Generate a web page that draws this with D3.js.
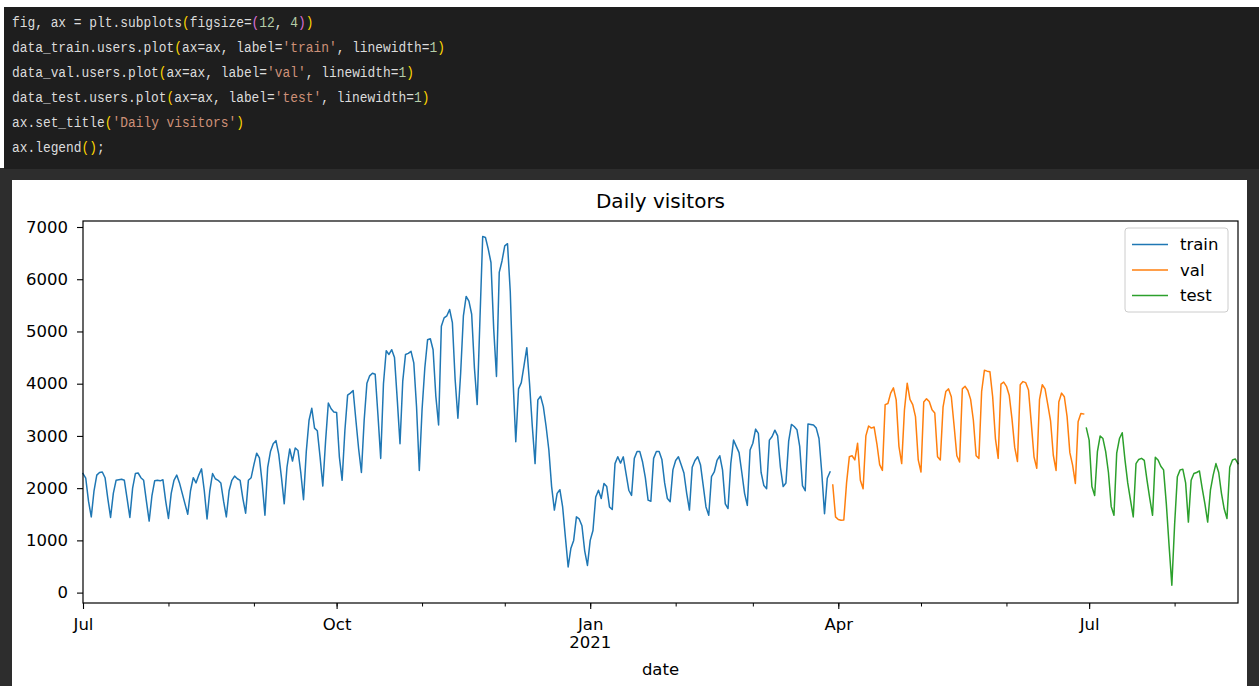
<!DOCTYPE html>
<html>
<head>
<meta charset="utf-8">
<script src="https://cdn.jsdelivr.net/npm/d3@7"></script>
<style>
  html, body { margin: 0; padding: 0; background: #ffffff; }
  svg { display: block; }
</style>
</head>
<body>
<svg id="chart" width="1259" height="686"></svg>
<script>
// ---------------- data ----------------
const trainStart = "2020-07-01";
const valStart = "2021-03-30";
const testStart = "2021-06-30";

const trainUsers = [2280,2190,1750,1450,
1950,2250,2300,2310,2200,1800,1440,
1900,2150,2160,2170,2150,1800,1440,
2000,2280,2290,2200,2150,1750,1370,
1850,2140,2150,2140,2160,1750,1420,
1900,2150,2250,2100,1900,1700,1500,
1950,2200,2100,2250,2370,1950,1410,
1950,2280,2180,2150,2100,1750,1450,
1950,2150,2230,2180,2150,1800,1520,
2150,2200,2450,2670,2580,2100,1480,
2400,2700,2850,2910,2650,2200,1700,
2400,2750,2520,2770,2720,2300,1780,
2700,3300,3530,3150,3100,2600,2040,
2900,3630,3520,3460,3450,2600,2150,
3100,3780,3820,3870,3300,2750,2300,
3300,4010,4150,4200,4180,3400,2570,
4000,4630,4560,4650,4500,3700,2850,
4050,4560,4580,4620,4400,3560,2340,
3500,4300,4840,4860,4650,3760,3210,
5100,5260,5300,5420,5170,4080,3340,
4200,5300,5670,5580,5330,4300,3600,
5230,6820,6800,6580,6320,5040,4140,
6130,6350,6640,6680,5760,4080,2890,
3900,4020,4350,4690,4000,3180,2470,
3690,3760,3560,3180,2730,2030,1580,
1900,1970,1640,1060,490,850,1000,
1450,1410,1280,800,520,1000,1190,
1830,1960,1800,2090,2030,1640,1590,
2470,2600,2480,2600,2280,1960,1860,
2570,2700,2700,2500,2200,1770,1750,
2570,2700,2700,2550,2100,1800,1740,
2350,2530,2600,2450,2290,1900,1580,
2400,2530,2600,2450,2050,1640,1480,
2220,2310,2530,2620,2350,1700,1610,
2470,2920,2800,2680,2300,1900,1670,
2730,2860,3130,3050,2300,2050,1990,
2920,2990,3110,3000,2400,2030,2100,
2900,3220,3180,3120,2800,2050,1950,
3230,3220,3210,3150,2950,2300,1510,
2190,2310];

const valUsers = [2060,1450,1400,1385,1390,2100,2600,2620,2540,2860,2150,1990,
3000,3190,3150,3170,2850,2450,2340,
3600,3620,3820,3920,3690,2800,2470,
3500,4010,3700,3600,3370,2540,2310,
3650,3710,3660,3500,3440,2600,2540,
3550,3850,3900,3750,3200,2620,2500,
3900,3950,3870,3700,3300,2620,2570,
3850,4256,4240,4230,3750,2950,2570,
3990,4030,3950,3780,3330,2780,2510,
3980,4040,4020,3880,3250,2600,2380,
3700,3980,3900,3600,3290,2630,2340,
3650,3820,3750,3370,2680,2440,2090,
3270,3430,3420];

const testUsers = [3150,2920,2030,1860,2700,3000,2950,2700,2300,1650,1480,
2670,2950,3060,2540,2100,1770,1450,
2470,2550,2570,2530,2150,1800,1480,
2590,2540,2420,2350,1700,900,140,
1300,2220,2350,2360,2100,1350,
2150,2280,2300,2330,2000,1700,1350,
1960,2250,2470,2300,1900,1600,1420,
2400,2540,2560,2470];

const seriesNames = ["train", "val", "test"];
const seriesColors = ["#1f77b4", "#ff7f0e", "#2ca02c"];

const yTicks = [0, 1000, 2000, 3000, 4000, 5000, 6000, 7000];
const xMajorDates = ["2020-07-01", "2020-10-01", "2021-01-01", "2021-04-01", "2021-07-01"];
const xMajorLabels = ["Jul", "Oct", "Jan", "Apr", "Jul"];
const xYearDate = "2021-01-01";
const xYearLabel = "2021";

const titleText = "Daily visitors";
const xLabelText = "date";

// code cell content: [text, colorKey]
const codeLines = [
  [["fig, ax = plt.subplots", "t"], ["(", "p1"], ["figsize=", "t"], ["(", "p2"], ["12", "n"], [", ", "t"], ["4", "n"], [")", "p2"], [")", "p1"]],
  [["data_train.users.plot", "t"], ["(", "p1"], ["ax=ax, label=", "t"], ["'train'", "s"], [", linewidth=", "t"], ["1", "n"], [")", "p1"]],
  [["data_val.users.plot", "t"], ["(", "p1"], ["ax=ax, label=", "t"], ["'val'", "s"], [", linewidth=", "t"], ["1", "n"], [")", "p1"]],
  [["data_test.users.plot", "t"], ["(", "p1"], ["ax=ax, label=", "t"], ["'test'", "s"], [", linewidth=", "t"], ["1", "n"], [")", "p1"]],
  [["ax.set_title", "t"], ["(", "p1"], ["'Daily visitors'", "s"], [")", "p1"]],
  [["ax.legend", "t"], ["()", "p1"], [";", "t"]]
];
const codeColors = { t: "#dcdcdc", p1: "#ffd700", p2: "#da70d6", n: "#b5cea8", s: "#ce9178" };

// ---------------- drawing ----------------
(function () {
const svg = d3.select("#chart");
const parse = d3.utcParse("%Y-%m-%d");

// page background pieces
svg.append("rect").attr("x", 0).attr("y", 0).attr("width", 1259).attr("height", 686).attr("fill", "#ffffff");
svg.append("rect").attr("x", 0).attr("y", 168).attr("width", 1259).attr("height", 518).attr("fill", "#2d2d2d");
svg.append("rect").attr("x", 4).attr("y", 7).attr("width", 1255).attr("height", 162).attr("fill", "#1e1e1e");
svg.append("rect").attr("x", 12).attr("y", 180).attr("width", 1235).attr("height", 506).attr("fill", "#ffffff");

// code text (condensed monospace)
const sx = 0.86;
const code = svg.append("g")
  .attr("transform", `scale(${sx},1)`)
  .attr("font-family", "'Liberation Mono', 'DejaVu Sans Mono', monospace")
  .attr("font-size", 15);
codeLines.forEach((ln, i) => {
  const t = code.append("text").attr("x", 12 / sx).attr("y", 27 + 25 * i).attr("xml:space", "preserve");
  ln.forEach(([txt, c]) => {
    t.append("tspan").attr("fill", codeColors[c]).text(txt);
  });
});

// chart
const pL = 83, pR = 1238, pT = 221, pB = 603;

const mk = (start, arr) => {
  const s = parse(start);
  return arr.map((v, i) => ({ date: d3.utcDay.offset(s, i), value: v }));
};
const series = [mk(trainStart, trainUsers), mk(valStart, valUsers), mk(testStart, testUsers)];

const allDates = series.flat().map(d => d.date);
const x = d3.scaleUtc().domain(d3.extent(allDates)).range([pL, pR]);
const y = d3.scaleLinear().domain([-199, 7115]).range([pB, pT]);

const font = "'DejaVu Sans', sans-serif";

// lines
const lineGen = d3.line().x(d => x(d.date)).y(d => y(d.value));
const plot = svg.append("g");
series.forEach((s, i) => {
  plot.append("path").datum(s)
    .attr("fill", "none")
    .attr("stroke", seriesColors[i])
    .attr("stroke-width", 1.5)
    .attr("stroke-linejoin", "round")
    .attr("stroke-linecap", "square")
    .attr("d", lineGen);
});

// frame
svg.append("rect").attr("x", pL).attr("y", pT).attr("width", pR - pL).attr("height", pB - pT)
  .attr("fill", "none").attr("stroke", "#000").attr("stroke-width", 1.2);

// y axis
const yAxis = d3.axisLeft(y).tickValues(yTicks).tickSize(6).tickPadding(9).tickFormat(d3.format("d"));
const gy = svg.append("g").attr("transform", `translate(${pL},0)`).call(yAxis);
gy.select(".domain").remove();
gy.selectAll("line").attr("stroke", "#000").attr("stroke-width", 1.1);
gy.selectAll("text").attr("font-family", font).attr("font-size", 16.5).attr("fill", "#000");

// x minor ticks (monthly)
const months = d3.utcMonth.range(d3.utcMonth.ceil(x.domain()[0]), x.domain()[1]);
const xMinor = d3.axisBottom(x).tickValues(months).tickSize(3.5).tickFormat("");
const gxm = svg.append("g").attr("transform", `translate(0,${pB})`).call(xMinor);
gxm.select(".domain").remove();
gxm.selectAll("line").attr("stroke", "#000").attr("stroke-width", 1);

// x major ticks
const majorDates = xMajorDates.map(parse);
const xMajor = d3.axisBottom(x).tickValues(majorDates).tickSize(6).tickPadding(9)
  .tickFormat((d, i) => xMajorLabels[i]);
const gx = svg.append("g").attr("transform", `translate(0,${pB})`).call(xMajor);
gx.select(".domain").remove();
gx.selectAll("line").attr("stroke", "#000").attr("stroke-width", 1.1);
gx.selectAll("text").attr("font-family", font).attr("font-size", 16.5).attr("fill", "#000");

svg.append("text").attr("x", x(parse(xYearDate))).attr("y", 648)
  .attr("text-anchor", "middle").attr("font-family", font).attr("font-size", 16.5).attr("fill", "#000")
  .text(xYearLabel);

// title & label
svg.append("text").attr("x", (pL + pR) / 2).attr("y", 208)
  .attr("text-anchor", "middle").attr("font-family", font).attr("font-size", 20).attr("fill", "#000")
  .text(titleText);
svg.append("text").attr("x", (pL + pR) / 2).attr("y", 675)
  .attr("text-anchor", "middle").attr("font-family", font).attr("font-size", 16.5).attr("fill", "#000")
  .text(xLabelText);

// legend
const lg = svg.append("g");
lg.append("rect").attr("x", 1125).attr("y", 228).attr("width", 103).attr("height", 84)
  .attr("rx", 3).attr("fill", "#ffffff").attr("fill-opacity", 0.8)
  .attr("stroke", "#cccccc").attr("stroke-width", 1);
seriesNames.forEach((n, i) => {
  const yy = 244.5 + i * 25.5;
  lg.append("line").attr("x1", 1132).attr("x2", 1168).attr("y1", yy).attr("y2", yy)
    .attr("stroke", seriesColors[i]).attr("stroke-width", 1.6);
  lg.append("text").attr("x", 1180).attr("y", yy).attr("dy", "0.35em")
    .attr("font-family", font).attr("font-size", 16.5).attr("fill", "#000").text(n);
});
})();
</script>
</body>
</html>
